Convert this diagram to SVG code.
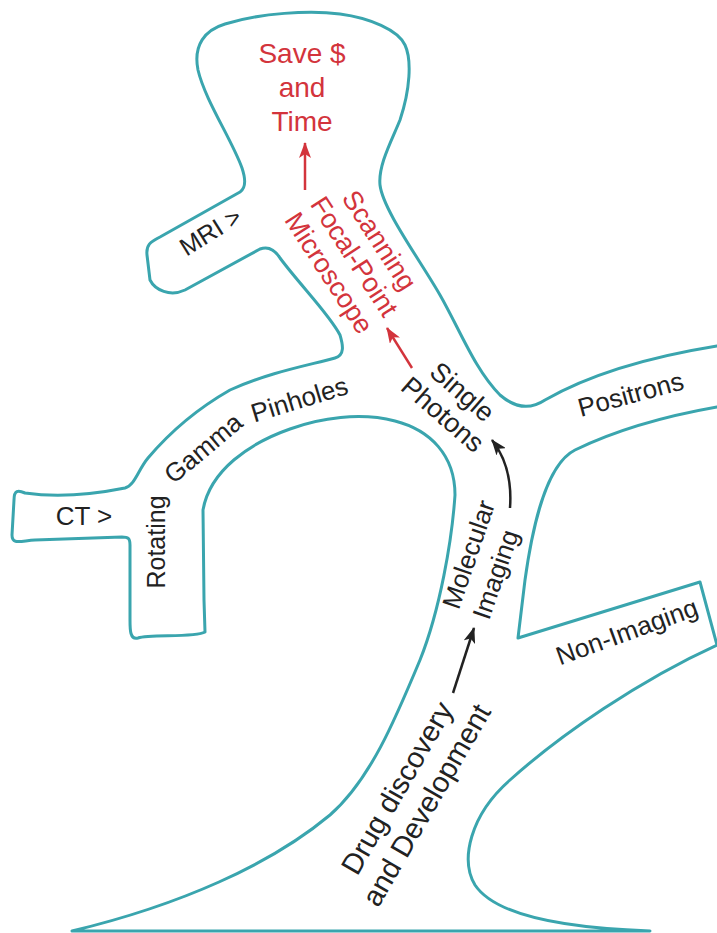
<svg xmlns="http://www.w3.org/2000/svg" width="717" height="933" viewBox="0 0 717 933">
<style>
.outline{fill:none;stroke:#3aa5ae;stroke-width:3;stroke-linejoin:round}
.t{font-family:"Liberation Sans",Arial,sans-serif;font-size:26px;fill:#222}
.red{fill:#d3343c}
.ra{fill:none;stroke:#d3343c;stroke-width:2.5}
.ba{fill:none;stroke:#222;stroke-width:2.5}
</style>
<defs>
<marker id="hr" markerUnits="userSpaceOnUse" markerWidth="16" markerHeight="12" refX="15" refY="6" orient="auto"><path d="M0,0 L16,6 L0,12 L4,6 z" fill="#d3343c"/></marker>
<marker id="hb" markerUnits="userSpaceOnUse" markerWidth="16" markerHeight="12" refX="15" refY="6" orient="auto"><path d="M0,0 L16,6 L0,12 L4,6 z" fill="#222"/></marker>
</defs>
<rect width="717" height="933" fill="#fff"/>
<g id="tree">
<path class="outline" d="M72,931 C180,905 270,865 330,815 C370,780 395,720 420,660 C440,610 452,540 455,495 C455,455 430,430 395,421 C360,412 320,418 290,429 C250,443 210,470 203,510 L204,600 L205,632 C195,638 150,634 138,638 C130,640 130,630 130,620 L130,545 C130,538 128,537 122,537 L35,540 C20,541 12,545 12,535 L14,500 C14,490 18,490 25,493 C60,498 100,493 125,488 C135,485 138,470 148,458 C170,432 195,410 230,390 C270,372 310,365 335,358 C345,355 343,345 340,335 C330,315 300,285 280,258 C275,250 268,246 260,249 L185,290 C170,297 155,290 150,280 L147,255 C146,245 150,242 160,237 L240,192 C246,188 246,180 242,168 C232,140 205,100 198,70 C193,45 205,30 225,24 C260,13 310,10 340,14 C370,18 398,30 405,45 C412,60 410,90 400,120 C392,140 378,165 380,185 C383,210 420,260 440,295 C460,330 475,370 500,395 C515,408 530,410 545,400 C580,380 630,360 717,346 L730,346 L730,407 L717,407 C660,417 610,433 575,450 C545,465 532,530 525,580 L518,638 L700,582 L717,645 C640,680 560,735 510,780 C470,815 460,860 475,885 C495,915 560,928 650,931 Z"/>
</g>
<g id="save">
<text class="t red" style="font-size:28px" text-anchor="middle" x="302" y="63">Save $</text>
<text class="t red" style="font-size:28px" text-anchor="middle" x="302" y="97">and</text>
<text class="t red" style="font-size:28px" text-anchor="middle" x="302" y="131">Time</text>
</g>
<g id="scanning" transform="translate(346.6,261.6) rotate(57)">
<text class="t red" style="font-size:27px" text-anchor="middle" y="-30">Scanning</text>
<text class="t red" style="font-size:27px" text-anchor="middle" y="0">Focal-Point</text>
<text class="t red" style="font-size:27px" text-anchor="middle" y="30">Microscope</text>
</g>
<g id="mri"><text class="t" style="font-size:25px" text-anchor="middle" transform="translate(215,239) rotate(-32)">MRI &gt;</text></g>
<g id="ct"><text class="t" text-anchor="middle" x="84" y="525">CT &gt;</text></g>
<g id="rotating">
<text class="t" style="font-size:25px" text-anchor="middle" transform="translate(165,542) rotate(-90)">Rotating</text>
<text class="t" text-anchor="middle" transform="translate(209,455) rotate(-40)">Gamma</text>
<text class="t" text-anchor="middle" transform="translate(302,408) rotate(-17)">Pinholes</text>
</g>
<g id="single" transform="translate(436.7,421.4) rotate(41)">
<text class="t" style="font-size:27px" text-anchor="middle" y="-30">Single</text>
<text class="t" style="font-size:27px" text-anchor="middle" y="0">Photons</text>
</g>
<g id="positrons"><text class="t" text-anchor="middle" transform="translate(633,403) rotate(-15)">Positrons</text></g>
<g id="molecular" transform="translate(489,621) rotate(-71)">
<text class="t" y="-32">Molecular</text>
<text class="t" y="0">Imaging</text>
</g>
<g id="nonimaging"><text class="t" text-anchor="middle" transform="translate(630,640) rotate(-20)">Non-Imaging</text></g>
<g id="drug" transform="translate(435,810) rotate(-60)">
<text class="t" style="font-size:29px" text-anchor="middle" y="-34">Drug discovery</text>
<text class="t" style="font-size:29px" text-anchor="middle" y="0">and Development</text>
</g>
<g id="connectors">
<path class="ra" d="M305,190 L305,143" marker-end="url(#hr)"/>
<path class="ra" d="M412,368 L387,328" marker-end="url(#hr)"/>
<path class="ba" d="M510,508 C512,480 506,458 492,440" marker-end="url(#hb)"/>
<path class="ba" d="M453,693 L474,628" marker-end="url(#hb)"/>
</g>
</svg>
